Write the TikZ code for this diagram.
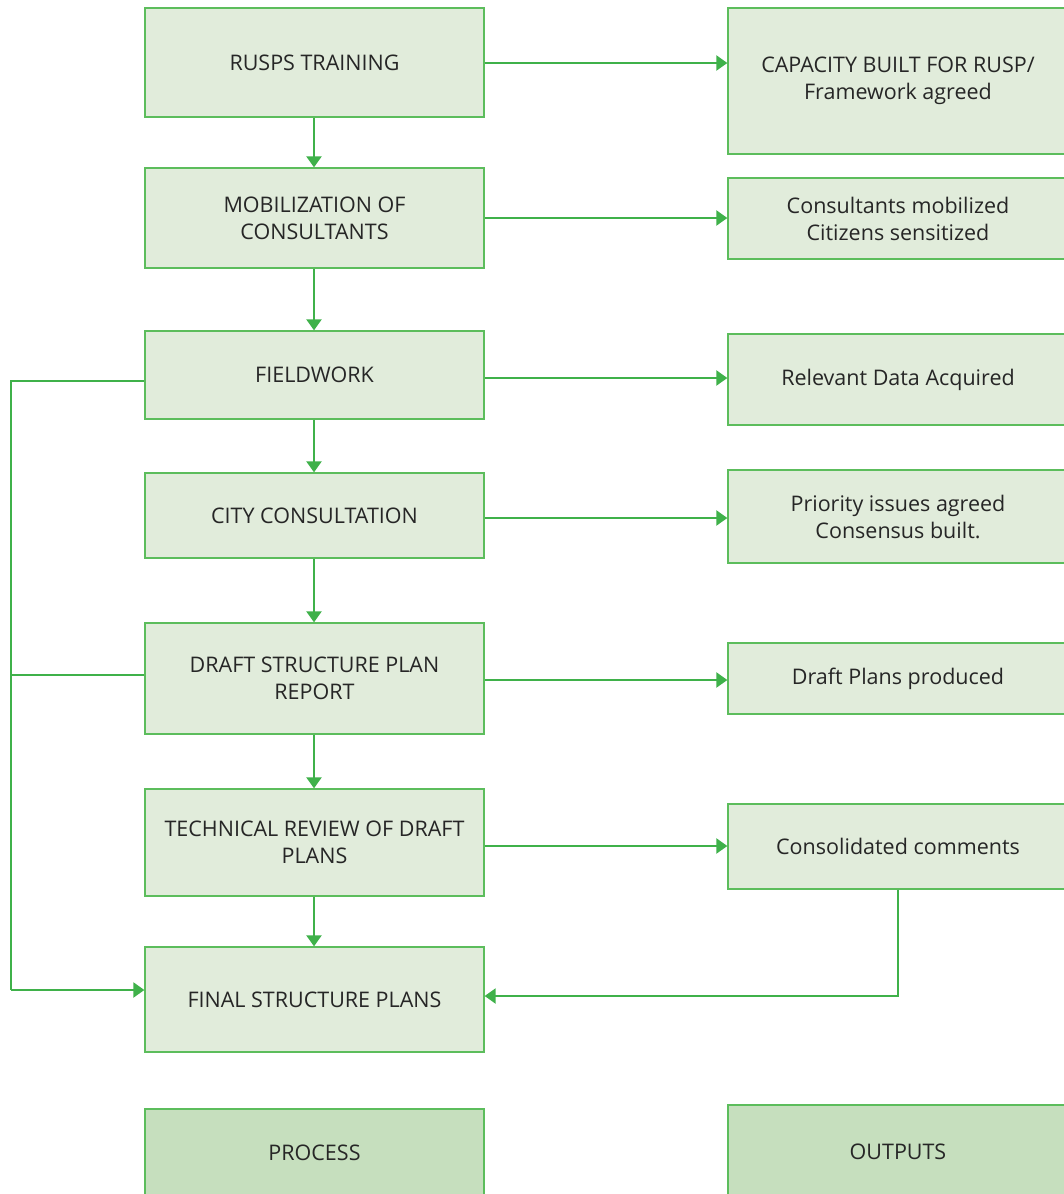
\documentclass[tikz,border=0pt]{standalone}
\usepackage{fontspec}
\setmainfont{Open Sans}
\usetikzlibrary{arrows.meta}
\definecolor{boxfill}{HTML}{E1ECDB}
\definecolor{boxline}{HTML}{5CBD5C}
\definecolor{conn}{HTML}{3FB14A}
\definecolor{legfill}{HTML}{C6DFBE}
\tikzset{
  x=1pt,y=-1pt,
  pbox/.style={draw=boxline,line width=1.3pt,fill=boxfill,inner sep=0pt,align=center,
    font=\fontsize{21.5}{27}\selectfont,text=black!85},
  lbox/.style={pbox,fill=legfill},
  conn/.style={draw=conn,line width=2.2pt,-{Triangle[width=15pt,length=11pt]}},
  plain/.style={draw=conn,line width=2.2pt}
}
\newcommand{\bx}[7]{% name, style, x1, y1, x2, y2, text
  \node[#2,minimum width={#5-#3},minimum height={#6-#4}] (#1) at ({(#3+#5)/2},{(#4+#6)/2}) {#7};}
\begin{document}
\begin{tikzpicture}
\useasboundingbox (0,0) rectangle (1064,1194);
% process boxes
\bx{p1}{pbox}{145}{8}{484}{117}{RUSPS TRAINING}
\bx{p2}{pbox}{145}{168}{484}{268}{MOBILIZATION OF\\CONSULTANTS}
\bx{p3}{pbox}{145}{331}{484}{419}{FIELDWORK}
\bx{p4}{pbox}{145}{473}{484}{558}{CITY CONSULTATION}
\bx{p5}{pbox}{145}{623}{484}{734}{DRAFT STRUCTURE PLAN\\REPORT}
\bx{p6}{pbox}{145}{789}{484}{896}{TECHNICAL REVIEW OF DRAFT\\PLANS}
\bx{p7}{pbox}{145}{947}{484}{1052}{FINAL STRUCTURE PLANS}
% output boxes
\bx{o1}{pbox}{728}{8}{1068}{154}{CAPACITY BUILT FOR RUSP/\\Framework agreed}
\bx{o2}{pbox}{728}{178}{1068}{259}{Consultants mobilized\\Citizens sensitized}
\bx{o3}{pbox}{728}{334}{1068}{425}{Relevant Data Acquired}
\bx{o4}{pbox}{728}{470}{1068}{563}{Priority issues agreed\\Consensus built.}
\bx{o5}{pbox}{728}{643}{1068}{714}{Draft Plans produced}
\bx{o6}{pbox}{728}{804}{1068}{889}{Consolidated comments}
% legend
\bx{lp}{lbox}{145}{1109}{484}{1197}{PROCESS}
\bx{lo}{lbox}{728}{1105}{1068}{1199}{OUTPUTS}
% vertical arrows
\foreach \a/\b in {p1/p2,p2/p3,p3/p4,p4/p5,p5/p6,p6/p7}
  \draw[conn] (\a.south -| 314,0) -- (\b.north -| 314,0);
% horizontal arrows
\draw[conn] (p1.east |- 0,63) -- (o1.west |- 0,63);
\draw[conn] (p2.east |- 0,218) -- (o2.west |- 0,218);
\draw[conn] (p3.east |- 0,378) -- (o3.west |- 0,378);
\draw[conn] (p4.east |- 0,518) -- (o4.west |- 0,518);
\draw[conn] (p5.east |- 0,680) -- (o5.west |- 0,680);
\draw[conn] (p6.east |- 0,846) -- (o6.west |- 0,846);
% left feedback loop
\coordinate (lt) at (11,381);
\coordinate (lb) at (11,990);
\draw[plain] (p3.west |- lt) -- (lt) -- (lb);
\draw[plain] (p5.west |- 0,675) -- (11,675);
\draw[conn] (lb) -- (p7.west |- lb);
% consolidated comments return
\coordinate (cr) at (898,996);
\draw[conn] (o6.south -| cr) -- (cr) -- (p7.east |- cr);
\end{tikzpicture}
\end{document}
